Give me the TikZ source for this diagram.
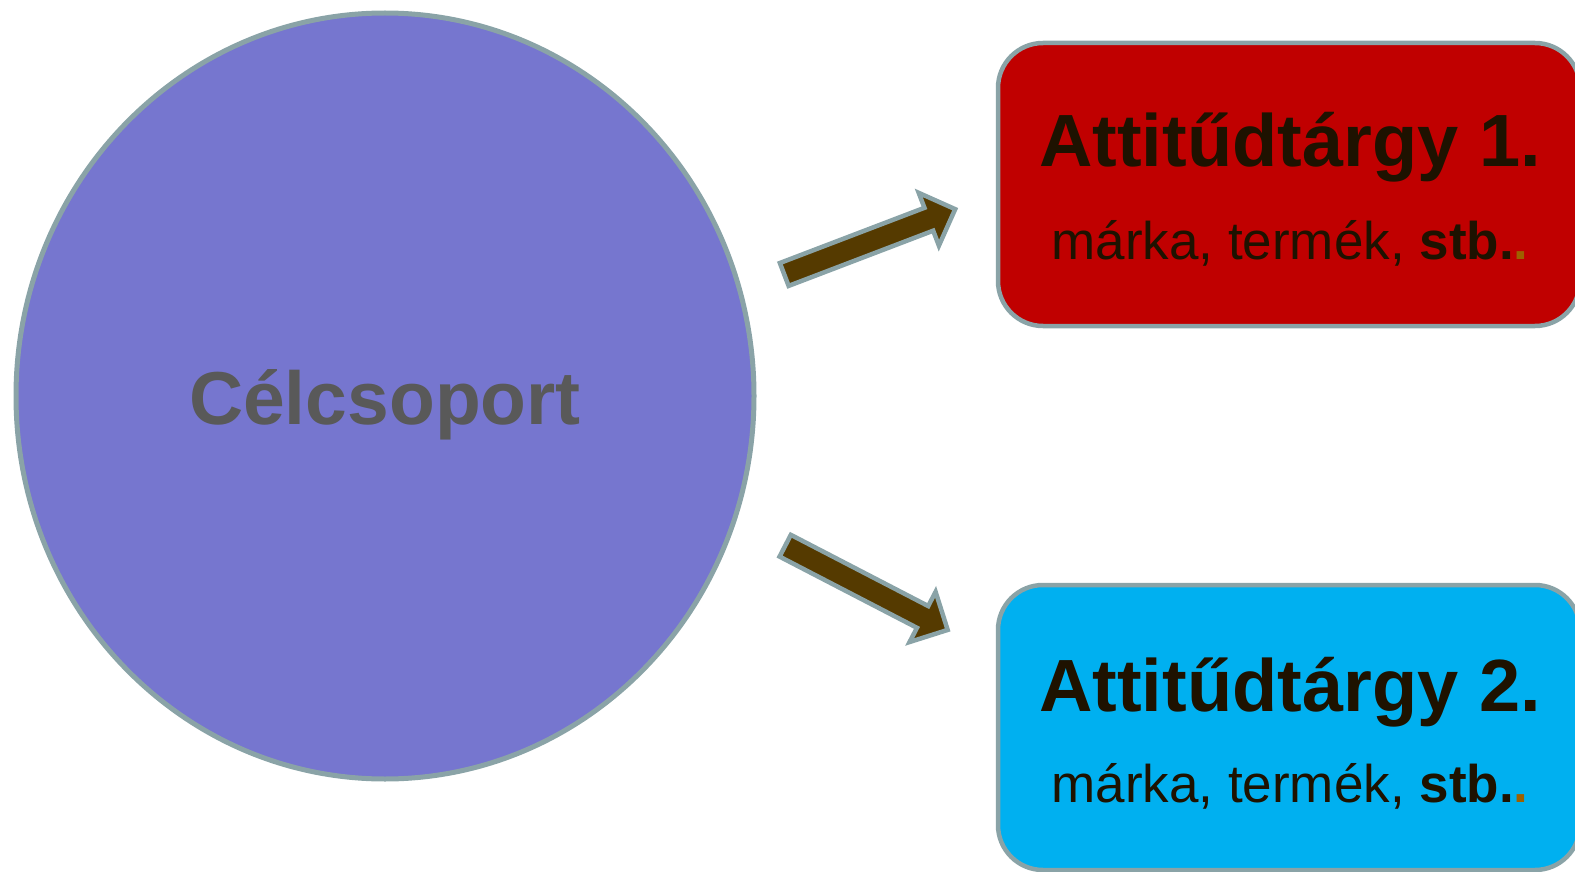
\documentclass[tikz,border=0pt]{standalone}
\usepackage{fontspec}
\setmainfont{Liberation Sans}
\usetikzlibrary{shapes.arrows}
\definecolor{circfill}{HTML}{7676CF}
\definecolor{edgegrey}{HTML}{8AA3A7}
\definecolor{labgrey}{HTML}{595959}
\definecolor{redbox}{HTML}{C00000}
\definecolor{bluebox}{HTML}{00B0F0}
\definecolor{darktxt}{HTML}{1E1200}
\definecolor{dotorange}{HTML}{9E6000}
\definecolor{arrowbrown}{HTML}{553A00}
\tikzset{
  objbox/.style={draw=edgegrey, line width=4.5pt, rounded corners=45pt},
  titletxt/.style={anchor=base, inner sep=0pt, text=darktxt, font=\fontsize{74}{80}\selectfont\bfseries},
  subtxt/.style={anchor=base, inner sep=0pt, text=darktxt, font=\fontsize{53}{60}\selectfont},
  bigarrow/.style={shape=single arrow, draw=edgegrey, fill=arrowbrown, line width=4.5pt,
    inner xsep=0pt, inner ysep=10pt, minimum height=183pt, minimum width=52pt, single arrow head extend=16pt,
    single arrow tip angle=90},
}
\begin{document}
\begin{tikzpicture}[x=1pt,y=-1pt]
\useasboundingbox (0,0) rectangle (1575,872);
% circle
\draw[fill=circfill, draw=edgegrey, line width=5pt] (385,396) ellipse [x radius=369, y radius=383];
\node[anchor=base, inner sep=0pt, text=labgrey, font=\fontsize{75}{80}\selectfont\bfseries] (cel) at (385,424) {Célcsoport};
% boxes
\node[objbox, fill=redbox, minimum width=582pt, minimum height=283pt, inner sep=0pt] (box1) at (1289,184.5) {};
\node[objbox, fill=bluebox, minimum width=582pt, minimum height=285pt, inner sep=0pt] (box2) at (1289,727.5) {};
\node[titletxt] (t1) at (1290,167) {Attitűdtárgy 1.};
\node[subtxt] (s1) at (1290,259) {márka, termék, \textbf{stb.}\textcolor{dotorange}{\textbf{.}}};
\node[titletxt] (t2) at (1290,711) {Attitűdtárgy 2.};
\node[subtxt] (s2) at (1290,802) {márka, termék, \textbf{stb.}\textcolor{dotorange}{\textbf{.}}};
% arrows
\node[bigarrow, rotate=20.9] (a1) at (864,244) {};
\node[bigarrow, rotate=-27.4] (a2) at (861,585) {};
\end{tikzpicture}
\end{document}
